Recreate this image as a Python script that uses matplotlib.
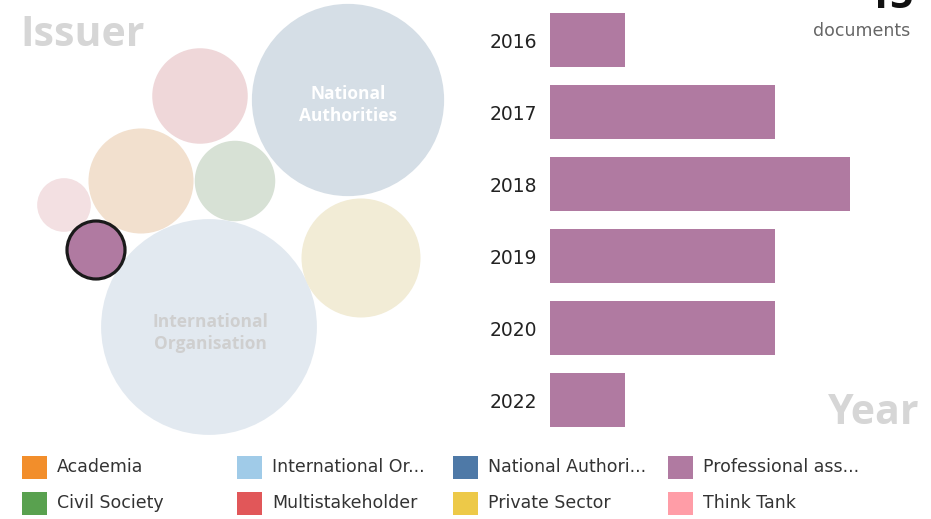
import matplotlib
matplotlib.use('Agg')
import matplotlib.pyplot as plt
from matplotlib.patches import Circle, Rectangle
import numpy as np

# data
issuers = ["Academia", "Civil Society", "International Organisation", "Multistakeholder",
           "National Authorities", "Private Sector", "Professional associations", "Think Tank"]
issuer_docs = [46, 27, 194, 38, 154, 59, 15, 12]
legend_labels = ["Academia", "International Or...", "National Authori...", "Professional ass...",
                 "Civil Society", "Multistakeholder", "Private Sector", "Think Tank"]
years = ["2016", "2017", "2018", "2019", "2020", "2022"]
year_docs = [1, 3, 4, 3, 3, 1]
selected = "Professional associations"

# styles / layout (pixel space)
colors = {
    "Academia": "#F28E2B", "Civil Society": "#59A14F", "International Organisation": "#A0CBE8",
    "Multistakeholder": "#E15759", "National Authorities": "#4E79A7", "Private Sector": "#EDC948",
    "Professional associations": "#B07AA1", "Think Tank": "#FF9DA7",
}
faded = {
    "Academia": "#F2E0CE", "Civil Society": "#D7E1D5", "International Organisation": "#E2E9F0",
    "Multistakeholder": "#EFD7D9", "National Authorities": "#D5DEE6", "Private Sector": "#F2ECD6",
    "Professional associations": "#E6D6E1", "Think Tank": "#F3E0E2",
}
centers = {
    "Academia": (141, 181), "Civil Society": (235, 181), "International Organisation": (209, 327),
    "Multistakeholder": (200, 96), "National Authorities": (348, 100), "Private Sector": (361, 258),
    "Professional associations": (96, 250), "Think Tank": (64, 205),
}
px_per_sqrt = 30 / np.sqrt(15)
W, H = 931, 519

fig = plt.figure(figsize=(W / 100, H / 100), dpi=100)
ax = fig.add_axes([0, 0, 1, 1])
ax.set_xlim(0, W)
ax.set_ylim(H, 0)
ax.axis('off')

for name, n in zip(issuers, issuer_docs):
    cx, cy = centers[name]
    r = px_per_sqrt * np.sqrt(n)
    if name == selected:
        ax.add_patch(Circle((cx, cy), r - 1, facecolor=colors[name], edgecolor="#1a1a1a", lw=2.3, zorder=3))
    else:
        ax.add_patch(Circle((cx, cy), r, facecolor=faded[name], lw=0, zorder=2))

ax.text(348, 105, "National\nAuthorities", ha='center', va='center', color='white',
        fontsize=12.5, fontweight='bold', family='Open Sans', linespacing=1.35, zorder=4)
ax.text(210, 333, "International\nOrganisation", ha='center', va='center', color='#cfcfcf',
        fontsize=12.5, fontweight='bold', family='Open Sans', linespacing=1.35, zorder=4)

ax.text(20, 36, "Issuer", ha='left', va='center', color='#d6d6d6', fontsize=29.5,
        fontweight='bold', family='Open Sans')
ax.text(919, 414, "Year", ha='right', va='center', color='#d6d6d6', fontsize=29.5,
        fontweight='bold', family='Open Sans')
ax.text(910, 31, "documents", ha='right', va='center', color='#666666', fontsize=12.5, family='DejaVu Sans')
ax.text(914, -2, str(sum(year_docs)), ha='right', va='center', color='#111111', fontsize=30,
        fontweight='bold', family='Open Sans')

# legend
col_x = [22, 237, 453, 668]
row_y = [467, 503]
order = [0, 2, 4, 6, 1, 3, 5, 7]
for i, lab in enumerate(legend_labels):
    x = col_x[i % 4]
    y = row_y[i // 4]
    cname = issuers[order[i]]
    ax.add_patch(Rectangle((x, y - 11), 25, 23, facecolor=colors[cname], edgecolor='none'))
    ax.text(x + 35, y, lab, ha='left', va='center', color='#333333', fontsize=12.5, family='DejaVu Sans')

# year bars
bx = fig.add_axes([550 / W, 1 - 436 / H, 300 / W, 432 / H])
ypos = np.arange(len(years))
bx.barh(ypos, year_docs, height=0.75, color=colors[selected])
bx.set_xlim(0, 4)
bx.set_ylim(len(years) - 0.5, -0.5)
bx.set_yticks(ypos)
bx.set_yticklabels(years, fontsize=13.5, color='#222222', family='DejaVu Sans')
bx.tick_params(axis='y', length=0, pad=9)
bx.set_xticks([])
for s in bx.spines.values():
    s.set_visible(False)
bx.patch.set_alpha(0)

fig.savefig("out.png", dpi=100)
